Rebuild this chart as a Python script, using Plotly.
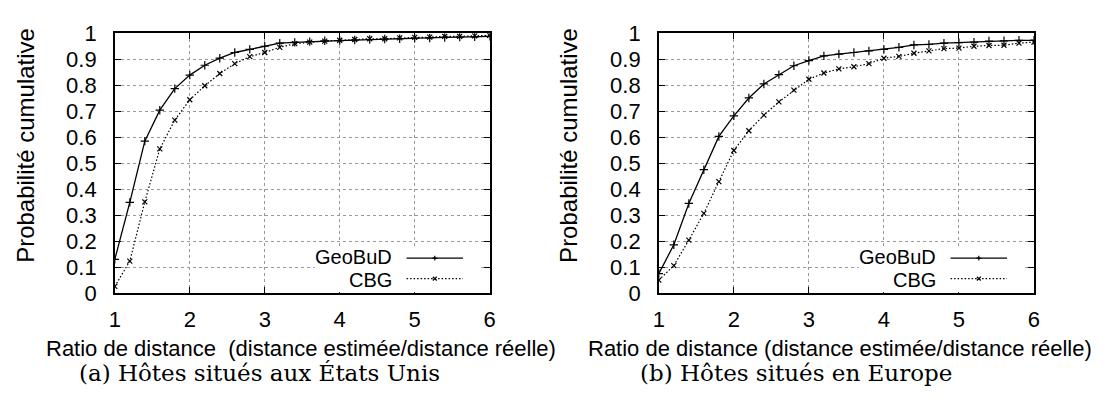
import plotly.graph_objects as go

W, H = 1103, 397

ratio = [1.0, 1.2, 1.4, 1.6, 1.8, 2.0, 2.2, 2.4, 2.6, 2.8, 3.0, 3.2, 3.4, 3.6, 3.8,
         4.0, 4.2, 4.4, 4.6, 4.8, 5.0, 5.2, 5.4, 5.6, 5.8, 6.0]

us_geobud = [0.130, 0.349, 0.585, 0.704, 0.787, 0.839, 0.877, 0.904, 0.926, 0.938, 0.950,
             0.962, 0.965, 0.968, 0.971, 0.972, 0.974, 0.976, 0.978, 0.979, 0.981,
             0.982, 0.984, 0.985, 0.986, 0.988]
us_cbg = [0.026, 0.123, 0.351, 0.555, 0.666, 0.744, 0.798, 0.845, 0.883, 0.910, 0.926,
          0.946, 0.960, 0.966, 0.970, 0.973, 0.976, 0.979, 0.979, 0.982, 0.984,
          0.985, 0.988, 0.988, 0.990, 0.992]

eu_geobud = [0.075, 0.186, 0.345, 0.475, 0.603, 0.682, 0.751, 0.805, 0.841, 0.875, 0.895,
             0.913, 0.920, 0.926, 0.932, 0.938, 0.946, 0.955, 0.957, 0.962, 0.964,
             0.966, 0.970, 0.971, 0.973, 0.973]
eu_cbg = [0.050, 0.106, 0.204, 0.307, 0.429, 0.549, 0.625, 0.685, 0.736, 0.781, 0.823,
          0.847, 0.863, 0.871, 0.883, 0.904, 0.911, 0.923, 0.932, 0.941, 0.943,
          0.950, 0.953, 0.954, 0.962, 0.966]

series_names = ["GeoBuD", "CBG"]
x_titles = ["Ratio de distance  (distance estimée/distance réelle)",
            "Ratio de distance (distance estimée/distance réelle)"]
y_title = "Probabilité cumulative"
captions = ["(a) Hôtes situés aux États Unis", "(b) Hôtes situés en Europe"]

SANS = "Liberation Sans, Arial, sans-serif"
SERIF = "DejaVu Serif, serif"
FS = 22
DOT = "1.5px,2px"

def px(x):
    return x / W

def py(y):
    return 1 - y / H

fig = go.Figure()

panels = [
    dict(geo=us_geobud, cbg=us_cbg, x0=110, x1=489, xa="x", ya="y"),
    dict(geo=eu_geobud, cbg=eu_cbg, x0=660, x1=1039.3, xa="x2", ya="y2"),
]
top, bottom = 22.7, 300

for i, p in enumerate(panels):
    fig.add_trace(go.Scatter(
        x=ratio, y=p["geo"], mode="lines+markers", name=series_names[0],
        xaxis=p["xa"], yaxis=p["ya"], showlegend=False,
        line=dict(color="black", width=1.3),
        marker=dict(symbol="cross-thin", size=6, line=dict(color="black", width=1.2)),
    ))
    fig.add_trace(go.Scatter(
        x=ratio, y=p["cbg"], mode="lines+markers", name=series_names[1],
        xaxis=p["xa"], yaxis=p["ya"], showlegend=False,
        line=dict(color="black", width=1.2, dash=DOT),
        marker=dict(symbol="x-thin", size=5, line=dict(color="black", width=1.2)),
    ))

axis_common = dict(
    showline=True, linecolor="black", linewidth=1.5, mirror="ticks",
    ticks="inside", ticklen=6, tickwidth=1.2, tickcolor="black",
    showgrid=True, gridcolor="#999999", gridwidth=1, griddash="dot",
    zeroline=False, tickfont=dict(family=SANS, size=FS, color="black"),
)

layout_axes = {}
for i, p in enumerate(panels):
    sfx = "" if i == 0 else "2"
    layout_axes["xaxis" + sfx] = dict(
        axis_common, domain=[px(p["x0"]), px(p["x1"])], range=[1, 6], dtick=1,
        anchor="y" + sfx, ticklabelstandoff=6,
    )
    layout_axes["yaxis" + sfx] = dict(
        axis_common, domain=[py(bottom), py(top)], range=[0, 1], dtick=0.1,
        anchor="x" + sfx, ticklabelstandoff=12,
    )

annotations = []
shapes = []
x_title_centers = [298.5, 843]
caption_centers = [256.5, 798.5]
y_title_x = [19, 568]
for i, p in enumerate(panels):
    annotations.append(dict(
        text=x_titles[i], x=px(x_title_centers[i]), y=py(359), xref="paper", yref="paper",
        xanchor="center", yanchor="middle", showarrow=False,
        font=dict(family=SANS, size=FS, color="black")))
    annotations.append(dict(
        text=captions[i], x=px(caption_centers[i]), y=py(385), xref="paper", yref="paper",
        xanchor="center", yanchor="middle", showarrow=False,
        font=dict(family=SERIF, size=23, color="black")))
    annotations.append(dict(
        text=y_title, x=px(y_title_x[i]), y=py(142), xref="paper", yref="paper",
        xanchor="center", yanchor="middle", showarrow=False, textangle=-90,
        font=dict(family=SANS, size=24, color="black")))

    off = p["x0"] - 110
    # legend background box
    shapes.append(dict(type="rect", xref="paper", yref="paper",
                       x0=px(312 + off), x1=px(477 + off), y0=py(299), y1=py(251.5),
                       fillcolor="white", line=dict(width=0), layer="above"))
    for j, (ly, ty, dash) in enumerate([(262.7, 261.5, "solid"), (284.5, 285.5, DOT)]):
        annotations.append(dict(
            text=series_names[j], x=px(392 + off), y=py(ty), xref="paper", yref="paper",
            xanchor="right", yanchor="middle", showarrow=False,
            font=dict(family=SANS, size=20, color="black")))
        shapes.append(dict(type="line", xref="paper", yref="paper",
                           x0=px(405 + off), x1=px(462 + off), y0=py(ly), y1=py(ly),
                           line=dict(color="black", width=1.2, dash=dash), layer="above"))
        cx = 433.5 + off
        d = 2.5
        if j == 0:
            segs = [(cx - d, ly, cx + d, ly), (cx, ly - d, cx, ly + d)]
        else:
            d = 2
            segs = [(cx - d, ly - d, cx + d, ly + d), (cx - d, ly + d, cx + d, ly - d)]
        for (a, b, c, e) in segs:
            shapes.append(dict(type="line", xref="paper", yref="paper",
                               x0=px(a), x1=px(c), y0=py(b), y1=py(e),
                               line=dict(color="black", width=1.2), layer="above"))

fig.update_layout(
    width=W, height=H, margin=dict(l=0, r=0, t=0, b=0),
    paper_bgcolor="white", plot_bgcolor="white",
    showlegend=False, annotations=annotations, shapes=shapes,
    **layout_axes,
)

fig.write_html("out.html")
